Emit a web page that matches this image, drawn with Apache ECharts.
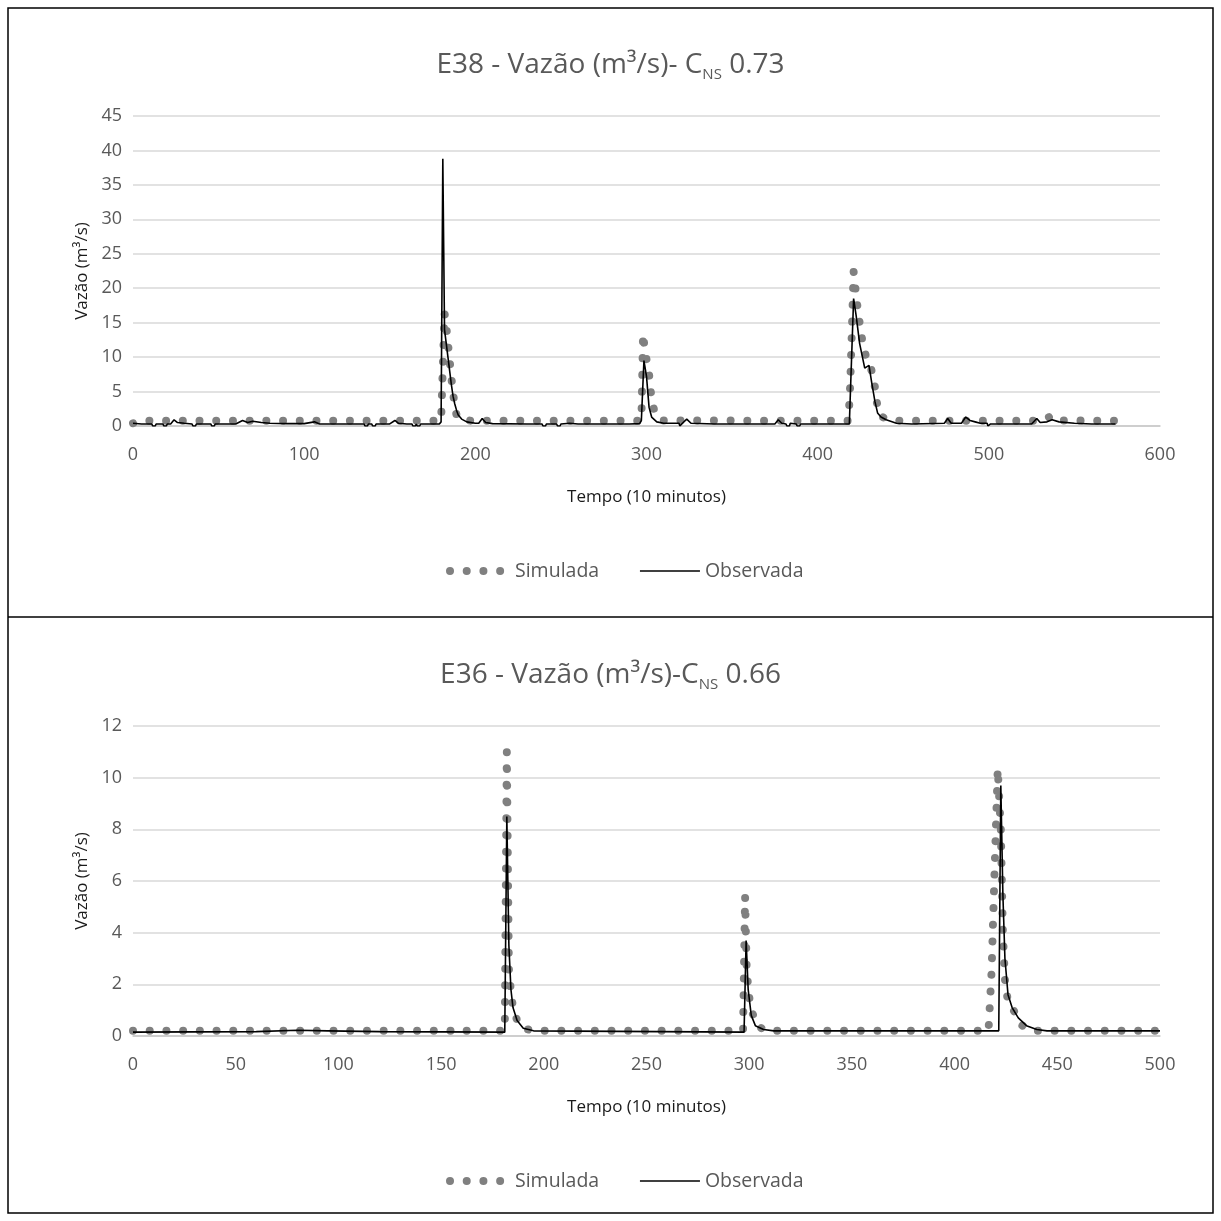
<!DOCTYPE html>
<html>
<head>
<meta charset="utf-8">
<script src="https://cdn.jsdelivr.net/npm/echarts@6/dist/echarts.min.js"></script>
<style>
html,body{margin:0;padding:0;background:#fff;}
#c{width:1221px;height:1221px;}
</style>
</head>
<body>
<div id="c"></div>
<script>
// ---- Data (time step in 10-minute units, flow in m³/s) ----
const seriesNames = ['Simulada', 'Observada'];

const e38Simulada = [
  [0,0.4],[5,0.75],[180,0.75],[181,0.8],[182,16.4],[183,14.5],[184,12],[185,9.5],[186,7],[187,4.8],
  [188,2.8],[189,1.6],[191,1.0],[195,0.8],[200,0.75],[297,0.75],[298,13.4],[299,11],[300.5,9],
  [301.5,7.5],[302.5,5],[303.5,3.2],[305,1.8],[307,1.1],[310,0.8],[418,0.75],[419,6],[420,14],
  [421,22.4],[423,17.8],[424.5,15],[426,12.5],[428,10.3],[431,8.5],[433,6.5],[434.5,3.5],[436,1.6],
  [440,1.0],[445,0.8],[450,0.75],[530,0.75],[537,1.5],[541,0.8],[574,0.75]
];
const e38Observada = [
  [0,0.4],[5,0.3],[11,0.3],[11.5,0],[13,0],[13.5,0.3],[17.5,0.3],[18,0],[19.5,0],[20,0.3],[22,0.3],
  [24,0.9],[26,0.5],[30,0.4],[34.5,0.3],[35,0],[36.5,0],[37,0.3],[45.5,0.3],[46,0],[47.5,0],[48,0.3],
  [60,0.3],[64,0.8],[67,0.5],[70,0.7],[75,0.5],[80,0.4],[90,0.35],[100,0.35],[106,0.6],[109,0.3],
  [120,0.3],[135,0.3],[135.5,0],[137,0],[137.5,0.3],[139.5,0.3],[140,0],[141.5,0],[142,0.3],[150,0.3],
  [153,0.8],[155,0.4],[160,0.3],[163,0.3],[163.5,0],[165,0],[165.5,0.3],[166,0],[167.5,0],[168,0.3],
  [179,0.3],[180,0.6],[181,38.8],[182,14],[183,12],[184,10],[185,8],[186,6],[187,4.3],[188,3.2],
  [189,2.3],[190,1.6],[192,1.0],[195,0.6],[200,0.4],[202,0.4],[204,1.1],[206,0.5],[210,0.35],
  [230,0.3],[239,0.3],[239.5,0],[241,0],[241.5,0.3],[247.5,0.3],[248,0],[249.5,0],[250,0.3],
  [255,0.4],[260,0.3],[290,0.3],[296,0.35],[297,0.8],[298.5,9.5],[300,7.2],[301.5,2.7],[303,1.3],
  [306,0.6],[310,0.4],[319,0.4],[319.5,0],[320.5,0],[321,0.4],[323.5,1.0],[326,0.4],[340,0.3],
  [375,0.3],[377,0.9],[379,0.4],[381.5,0.3],[382,0],[383.5,0],[384,0.4],[387.5,0.3],[388,0],
  [389.5,0],[390,0.3],[418.5,0.3],[421,18.5],[422.5,16],[424.5,12],[427.5,8.4],[430,8.8],
  [431.5,6.4],[433.5,3.5],[435,1.9],[437,1.3],[440,0.9],[446,0.4],[455,0.3],[474,0.4],[476,1.1],
  [478,0.4],[484,0.4],[486.5,1.3],[489,0.8],[492,0.6],[495,0.4],[499,0.4],[499.5,0],[500.5,0],
  [501,0.3],[525,0.3],[528,1.1],[530,0.5],[534,0.6],[537,0.9],[541,0.6],[550,0.4],[560,0.3],[574,0.3]
];

const e36Simulada = [
  [0,0.2],[155,0.2],[158,0.27],[161,0.2],[181,0.2],[182,11.0],[183,2.6],[184,1.7],[185,1.1],
  [187,0.6],[190,0.3],[195,0.2],[297,0.2],[298,5.4],[298.8,2.5],[300,1.5],[301.5,0.9],[304,0.4],
  [308,0.2],[416.5,0.2],[418,2.5],[419.5,6.5],[421,10.35],[422.5,8],[423.5,4],[424.5,2.2],
  [426,1.3],[428,1.1],[430,0.8],[433,0.4],[438,0.2],[500,0.2]
];
const e36Observada = [
  [0,0.15],[60,0.17],[80,0.22],[95,0.2],[120,0.17],[181,0.15],[182,8.5],[183,3.5],[184,1.8],
  [185,1.1],[187,0.6],[190,0.3],[195,0.2],[297.5,0.15],[298.5,3.7],[299.5,1.8],[301,0.8],
  [303,0.4],[307,0.25],[312,0.2],[421.5,0.2],[422.5,9.7],[423.5,5.5],[424.5,3],[426,1.6],
  [428,1.1],[431,0.7],[435,0.4],[440,0.25],[445,0.2],[500,0.2]
];

const e38Axis = {xMax: 600, xStep: 100, yMax: 45, yStep: 5};
const e36Axis = {xMax: 500, xStep: 50, yMax: 12, yStep: 2};

// ---- Styling ----
const FONT = 'Open Sans';
const TXT = '#595959';
const simStyle = {color: '#808080', width: 8, type: [0.01, 16.7], cap: 'round'};
const obsStyle = {color: '#000000', width: 1.6};

function titleOpt(before, cns, top) {
  return {
    text: '{a|' + before + '}{s|NS}{a| ' + cns + '}',
    left: 'center', top: top, padding: 0,
    textStyle: {
      fontWeight: 'normal',
      rich: {
        a: {fontFamily: FONT, fontSize: 28, fontWeight: 'normal', color: TXT, lineHeight: 34},
        s: {fontFamily: FONT, fontSize: 15, fontWeight: 'normal', color: TXT, lineHeight: 12, verticalAlign: 'bottom'}
      }
    }
  };
}
function xAxisOpt(idx, ax) {
  return {
    type: 'value', gridIndex: idx, min: 0, max: ax.xMax, interval: ax.xStep,
    name: 'Tempo (10 minutos)', nameLocation: 'middle', nameGap: 63,
    nameTextStyle: {fontFamily: FONT, fontSize: 17, color: '#1a1a1a'},
    axisLine: {show: true, lineStyle: {color: '#c8c8c8', width: 1.5}},
    axisTick: {show: false},
    axisLabel: {fontFamily: FONT, fontSize: 18, color: TXT, margin: 20},
    splitLine: {show: false}
  };
}
function yAxisOpt(idx, ax) {
  return {
    type: 'value', gridIndex: idx, min: 0, max: ax.yMax, interval: ax.yStep,
    name: 'Vazão (m³/s)', nameLocation: 'middle', nameGap: 36, nameRotate: 90,
    nameTextStyle: {fontFamily: FONT, fontSize: 17, color: '#1a1a1a'},
    axisLine: {show: false}, axisTick: {show: false},
    axisLabel: {fontFamily: FONT, fontSize: 18, color: TXT, margin: 11},
    splitLine: {show: true, lineStyle: {color: '#d9d9d9', width: 1.5}}
  };
}
function legendOpt(top) {
  return {
    top: top, left: 441, itemWidth: 60, itemHeight: 12, itemGap: 40,
    itemStyle: {opacity: 0},
    lineStyle: {width: 'inherit'},
    data: [
      {name: seriesNames[0]},
      {name: seriesNames[1]}
    ],
    textStyle: {fontFamily: FONT, fontSize: 19.5, color: TXT}
  };
}

const chart = echarts.init(document.getElementById('c'), null, {renderer: 'canvas'});
chart.setOption({
  animation: false,
  backgroundColor: '#fff',
  title: [
    titleOpt('E38 - Vazão (m³/s)- C', '0.73', 48),
    titleOpt('E36 - Vazão (m³/s)-C', '0.66', 658)
  ],
  legend: [legendOpt(556), legendOpt(1166)],
  grid: [
    {left: 133, top: 116, width: 1027, height: 310},
    {left: 133, top: 726, width: 1027, height: 310}
  ],
  xAxis: [xAxisOpt(0, e38Axis), xAxisOpt(1, e36Axis)],
  yAxis: [yAxisOpt(0, e38Axis), yAxisOpt(1, e36Axis)],
  graphic: [
    {type: 'rect', shape: {x: 8, y: 8, width: 1205, height: 1205}, style: {fill: 'none', stroke: '#000', lineWidth: 1.5}, silent: true},
    {type: 'line', shape: {x1: 8, y1: 617, x2: 1213, y2: 617}, style: {stroke: '#000', lineWidth: 1.5}, silent: true}
  ],
  series: [
    {name: seriesNames[0], type: 'line', xAxisIndex: 0, yAxisIndex: 0, data: e38Simulada, symbol: 'none', lineStyle: simStyle, itemStyle: {color: '#808080'}, z: 2},
    {name: seriesNames[1], type: 'line', xAxisIndex: 0, yAxisIndex: 0, data: e38Observada, symbol: 'none', lineStyle: obsStyle, itemStyle: {color: '#000'}, z: 3},
    {name: seriesNames[0], type: 'line', xAxisIndex: 1, yAxisIndex: 1, data: e36Simulada, symbol: 'none', lineStyle: simStyle, itemStyle: {color: '#808080'}, z: 2},
    {name: seriesNames[1], type: 'line', xAxisIndex: 1, yAxisIndex: 1, data: e36Observada, symbol: 'none', lineStyle: obsStyle, itemStyle: {color: '#000'}, z: 3}
  ]
});
</script>
</body>
</html>
